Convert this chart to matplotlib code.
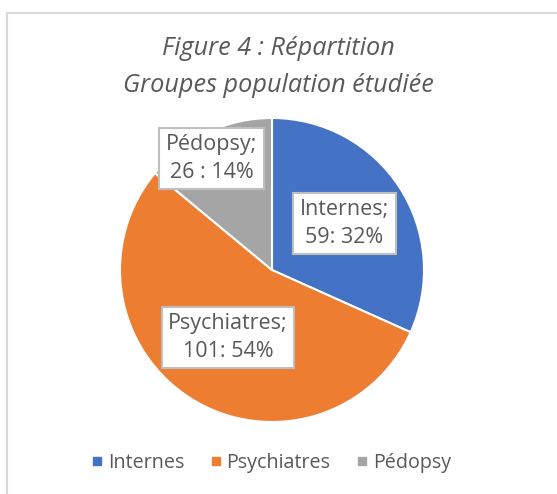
import matplotlib.pyplot as plt
from matplotlib.lines import Line2D
from matplotlib.patches import Rectangle

groups = ['Internes', 'Psychiatres', 'Pédopsy']
counts = [59, 101, 26]
pcts = ['32%', '54%', '14%']
seps = [': ', ': ', ' : ']
colors = ['#4472C4', '#ED7D31', '#A5A5A5']
# label box centres (data coords inside the pie axes)
label_pos = [(0.477, 0.306), (-0.29, -0.444), (-0.398, 0.734)]

txt = '#595959'
plt.rcParams['font.family'] = ['Open Sans', 'DejaVu Sans']

fig = plt.figure(figsize=(5.57, 4.94), dpi=100)
fig.patches.append(Rectangle((7 / 557, -10 / 494), 600 / 557, 491 / 494, transform=fig.transFigure,
                             fill=False, edgecolor='#D9D9D9', lw=1.5))

ax = fig.add_axes([120 / 557, 1 - 422 / 494, 304 / 557, 304 / 494])
wedges, _ = ax.pie(counts, colors=colors, startangle=90, counterclock=False,
                   wedgeprops=dict(edgecolor='white', linewidth=1.5))
ax.set_xlim(-1, 1)
ax.set_ylim(-1, 1)
ax.set_aspect('equal')
ax.axis('off')

for g, c, p, s, (x, y) in zip(groups, counts, pcts, seps, label_pos):
    ax.text(x, y, f'{g};\n{c}{s}{p}', ha='center', va='center', fontsize=15.5, color=txt,
            linespacing=1.42,
            bbox=dict(boxstyle='square,pad=0.3', facecolor='white', edgecolor='#BFBFBF', lw=1.5))

fig.text(0.5, 1 - 67 / 494, 'Figure 4 : Répartition\nGroupes population étudiée', ha='center', va='center',
         fontsize=18.2, style='italic', color=txt, linespacing=1.62)

handles = [Line2D([], [], marker='s', ls='', color=col, markersize=6) for col in colors]
fig.legend(handles, groups, loc='center', bbox_to_anchor=(270 / 557, 1 - 463 / 494), ncol=3, frameon=False,
           fontsize=14.2, labelcolor=txt, handletextpad=0.15, columnspacing=1.2, handlelength=0.8)

fig.savefig('out.png', dpi=100)
